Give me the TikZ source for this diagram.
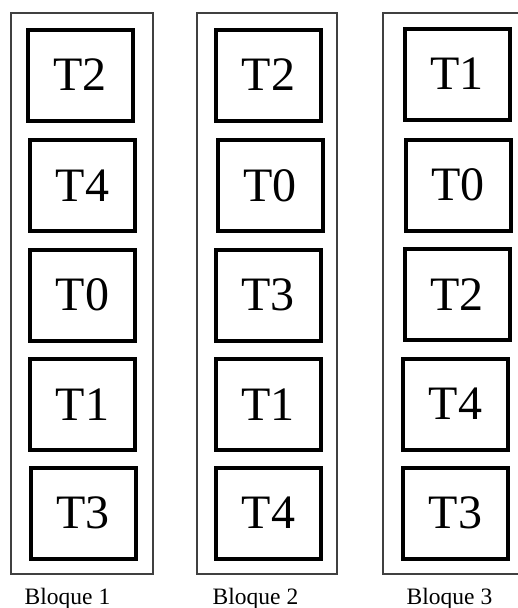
\documentclass[tikz,border=0pt]{standalone}
\usepackage{fontspec}
\setmainfont{Liberation Serif}
\begin{document}
\begin{tikzpicture}[x=1pt,y=-1pt,
  tbox/.style={draw=black,line width=4pt,minimum width=105pt,minimum height=91pt,inner sep=0pt,fill=white,font=\fontsize{48}{48}\selectfont},
  frame/.style={draw=black!75,line width=1.3pt},
  blabel/.style={anchor=base,inner sep=0pt,font=\fontsize{23.5}{24}\selectfont}]
\useasboundingbox (0,0) rectangle (517,608);
% outer frames
\draw[frame] (11,13) rectangle (153,574);
\draw[frame] (197,13) rectangle (337,574);
\draw[frame] (525,13) -- (383,13) -- (383,574) -- (525,574);
% column 1
\node[tbox] (a1) at (80,75) {T2};
\node[tbox] (a2) at (82.5,185.5) {T4};
\node[tbox] (a3) at (82.5,295) {T0};
\node[tbox] (a4) at (82.5,404.5) {T1};
\node[tbox] (a5) at (83,513) {T3};
% column 2
\node[tbox] (b1) at (268.5,75) {T2};
\node[tbox] (b2) at (270,185.5) {T0};
\node[tbox] (b3) at (268,295) {T3};
\node[tbox] (b4) at (268,404.5) {T1};
\node[tbox] (b5) at (268.5,513) {T4};
% column 3
\node[tbox] (c1) at (457,74) {T1};
\node[tbox] (c2) at (458,185) {T0};
\node[tbox] (c3) at (457,294.5) {T2};
\node[tbox] (c4) at (455.5,404) {T4};
\node[tbox] (c5) at (455.5,513) {T3};
% labels
\node[blabel] (l1) at (67.5,604) {Bloque 1};
\node[blabel] (l2) at (255.5,604) {Bloque 2};
\node[blabel] (l3) at (449.5,604) {Bloque 3};
\end{tikzpicture}
\end{document}
